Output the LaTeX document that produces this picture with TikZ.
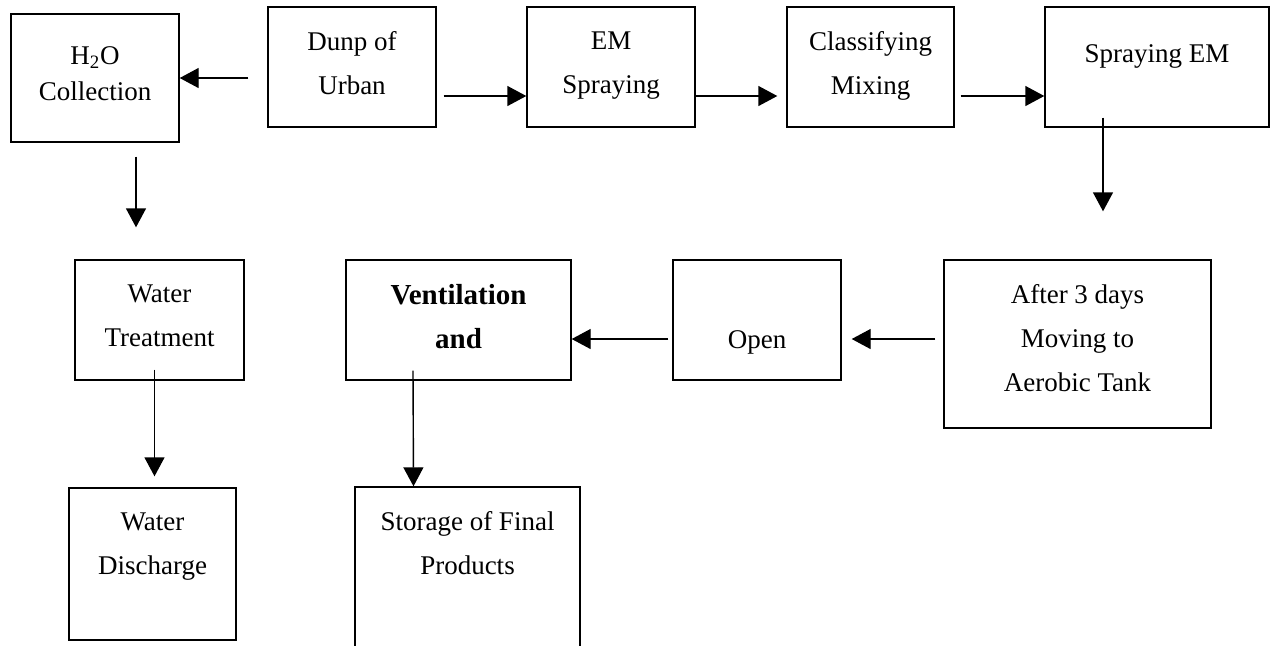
\documentclass[tikz,border=0pt]{standalone}
\usepackage{fontspec}
\setmainfont{Liberation Serif}
\usetikzlibrary{arrows.meta}
\usetikzlibrary{calc}

\tikzset{
	blok/.style={draw, line width=0.7pt, inner sep=0pt},
	tekst/.style={anchor=north, inner sep=0pt, align=center,
		font=\fontsize{13.5}{22}\selectfont, execute at begin node=\strut},
	pijl/.style={-{Triangle[length=9.5pt,width=10pt]}, line width=0.7pt},
}

\begin{document}
\begin{tikzpicture}[x=0.5pt,y=-0.5pt]
\useasboundingbox[fill=white] (0,0) rectangle (1272,645);
\clip (0,0) rectangle (1272,645);
% premiere ligne
\node[blok, minimum width=84pt, minimum height=64pt] (hto) at (95,78) {};
\node[blok, minimum width=84pt, minimum height=60pt] (dunp) at (352,67) {};
\node[blok, minimum width=84pt, minimum height=60pt] (em) at (611,67) {};
\node[blok, minimum width=83.5pt, minimum height=60pt] (klas) at (870.5,67) {};
\node[blok, minimum width=112pt, minimum height=60pt] (spray) at (1157,67) {};
% deuxieme ligne
\node[blok, minimum width=84.5pt, minimum height=60pt] (treat) at (159.5,320) {};
\node[blok, minimum width=112.5pt, minimum height=60pt] (vent) at (458.5,320) {};
\node[blok, minimum width=84pt, minimum height=60pt] (open) at (757,320) {};
\node[blok, minimum width=133.5pt, minimum height=84pt] (after) at (1077.5,344) {};
% troisieme ligne
\node[blok, minimum width=83.5pt, minimum height=76pt] (disch) at (152.5,564) {};
\node[blok, minimum width=112.5pt, minimum height=86.5pt] (store) at (467.5,573.5) {};

\node[tekst] (thto) at ([yshift=-16.5pt]hto.north) {H\textsubscript{2}O\\[-4pt]Collection};
\node[tekst] (tdunp) at ([yshift=-12.5pt]dunp.north) {Dunp of\\Urban};
\node[tekst] (tem) at ([yshift=-12.5pt]em.north) {EM\\Spraying};
\node[tekst] (tklas) at ([yshift=-12.5pt]klas.north) {Classifying\\Mixing};
\node[tekst] (tspray) at ([yshift=-12.5pt]spray.north) {Spraying EM};
\node[tekst] (ttreat) at ([yshift=-12.5pt]treat.north) {Water\\Treatment};
\node[tekst, font=\fontsize{14.5}{22}\selectfont\bfseries] (tvent) at ([yshift=-12.5pt]vent.north) {Ventilation\\and};
\node[tekst] (topen) at ([yshift=-29pt]open.north) {Open};
\node[tekst] (tafter) at ([yshift=-12.5pt]after.north) {After 3 days\\Moving to\\Aerobic Tank};
\node[tekst] (tdisch) at ([yshift=-12.5pt]disch.north) {Water\\Discharge};
\node[tekst] (tstore) at ([yshift=-12.5pt]store.north) {Storage of Final\\Products};

% fleches
\draw[pijl] ($(dunp.west)+(-19,11)$) -- (hto.east);
\draw[pijl] ($(dunp.east)+(7,29)$) -- ($(em.west)+(0,29)$);
\draw[pijl] ($(em.east)+(0,29)$) -- ($(klas.west)+(-9,29)$);
\draw[pijl] ($(klas.east)+(6,29)$) -- ($(spray.west)+(0,29)$);
\draw[pijl] ($(spray.south)+(-54,-10)$) -- ($(after.north)+(25.5,-48)$);
\draw[pijl] ($(hto.south)+(41,14)$) -- ($(treat.north)+(-23.5,-32)$);
\draw[pijl] ($(treat.south)+(-5,-11)$) -- ($(disch.north)+(2,-11)$);
\draw[pijl] ($(after.west)+(-8,-5)$) -- ($(open.east)+(10,19)$);
\draw[pijl] ($(open.west)+(-4,19)$) -- ($(vent.east)+(0,19)$);
\draw[pijl] ($(vent.south)+(-45.5,-10)$) -- ($(store.north)+(-54,0)$);
\end{tikzpicture}
\end{document}
